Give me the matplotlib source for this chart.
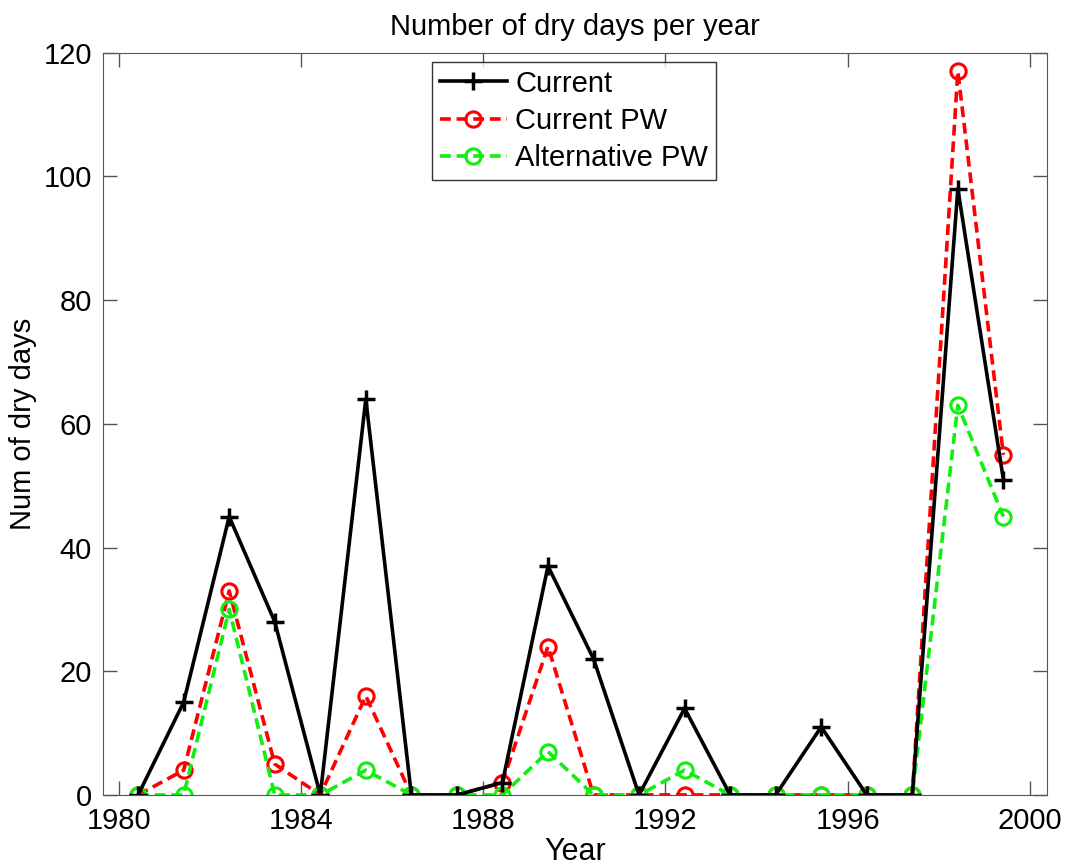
import matplotlib
matplotlib.use('Agg')
import matplotlib.pyplot as plt
import numpy as np

# yearly values, one point per year (plotted mid-year)
years = np.arange(1980, 2000) + 0.42
current = [0, 15, 45, 28, 0, 64, 0, 0, 2, 37, 22, 0, 14, 0, 0, 11, 0, 0, 98, 51]
current_pw = [0, 4, 33, 5, 0, 16, 0, 0, 2, 24, 0, 0, 0, 0, 0, 0, 0, 0, 117, 55]
alt_pw = [0, 0, 30, 0, 0, 4, 0, 0, 0, 7, 0, 0, 4, 0, 0, 0, 0, 0, 63, 45]

plt.rcParams['font.family'] = ['Liberation Sans', 'DejaVu Sans']

fig = plt.figure(figsize=(10.68, 8.65), dpi=100)
ax = fig.add_axes([0.0965, 0.081, 0.8835, 0.858])

l2, = ax.plot(years, current_pw, color='#ff0000', linestyle='--', linewidth=2.6,
              marker='o', markersize=11, markerfacecolor='none', markeredgewidth=2.2,
              dashes=(3, 1.6), label='Current PW')
l3, = ax.plot(years, alt_pw, color='#11ee11', linestyle='--', linewidth=2.6,
              marker='o', markersize=11, markerfacecolor='none', markeredgewidth=2.2,
              dashes=(3, 1.6), label='Alternative PW')
l1, = ax.plot(years, current, color='black', linewidth=2.6,
              marker='+', markersize=13, markeredgewidth=2.5, label='Current')

ax.set_xlim(1979.65, 2000.37)
ax.set_ylim(0, 120)
ax.set_xticks([1980, 1984, 1988, 1992, 1996, 2000])
ax.set_yticks(np.arange(0, 121, 20))
ax.tick_params(direction='in', top=True, right=True, length=10, width=1,
               color='#555555', labelsize=21)
ax.tick_params(axis='x', pad=9)
ax.tick_params(axis='y', pad=8)
for s in ax.spines.values():
    s.set_color('#555555')

ax.set_title('Number of dry days per year', fontsize=21, pad=13)
ax.set_xlabel('Year', fontsize=22, labelpad=1)
ax.set_ylabel('Num of dry days', fontsize=21, labelpad=5)

leg = ax.legend(handles=[l1, l2, l3], loc='upper left', bbox_to_anchor=(0.349, 0.987),
                fontsize=21, frameon=True, fancybox=False, edgecolor='black',
                handlelength=2.3, handletextpad=0.3, borderpad=0.25, labelspacing=0.32,
                borderaxespad=0)
leg.get_frame().set_linewidth(1.0)

fig.savefig('out.png', dpi=100)
